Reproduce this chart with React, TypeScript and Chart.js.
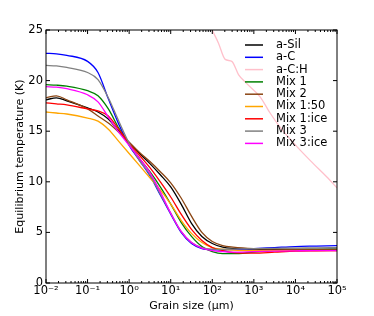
import React, { useEffect, useRef } from 'react';
import { Chart, registerables } from 'chart.js';
Chart.register(...registerables);

// Grain sizes (µm)
const sizes = [0.01, 0.0178, 0.0316, 0.1, 0.178, 0.316, 0.562, 1, 1.78, 3.16, 5.62, 10, 17.8, 31.6, 56.2, 100, 178, 316, 1000, 3162, 10000, 31623, 100000];

const aSil = [18.1, 18.3, 18.0, 17.3, 16.9, 16.2, 15.0, 13.9, 12.8, 11.8, 10.7, 9.5, 7.8, 5.9, 4.6, 3.9, 3.55, 3.42, 3.35, 3.32, 3.32, 3.33, 3.35];
const aC = [22.7, 22.65, 22.5, 21.9, 20.8, 18.2, 15.7, 13.6, 12.1, 10.6, 8.7, 6.8, 5.0, 3.9, 3.4, 3.28, 3.27, 3.3, 3.4, 3.5, 3.6, 3.65, 3.7];
const mix1 = [19.6, 19.55, 19.45, 19.0, 18.5, 17.2, 15.3, 13.7, 12.3, 11.0, 9.5, 7.8, 6.0, 4.6, 3.6, 3.1, 2.9, 2.9, 3.05, 3.2, 3.3, 3.32, 3.33];
const mix2 = [18.3, 18.5, 18.1, 17.2, 16.5, 15.8, 14.9, 13.9, 12.9, 12.0, 11.0, 9.9, 8.4, 6.6, 5.0, 4.1, 3.7, 3.55, 3.4, 3.35, 3.33, 3.32, 3.3];
const mix150 = [16.9, 16.8, 16.7, 16.3, 16.0, 15.2, 14.0, 12.8, 11.6, 10.4, 9.2, 7.8, 6.2, 4.9, 4.0, 3.5, 3.35, 3.25, 3.2, 3.2, 3.2, 3.2, 3.2];
const mix1ice = [17.8, 17.7, 17.6, 17.2, 17.0, 16.5, 15.2, 13.8, 12.6, 11.4, 10.0, 8.5, 6.8, 5.3, 4.2, 3.5, 3.2, 3.0, 2.95, 3.05, 3.15, 3.18, 3.2];
const mix3 = [21.5, 21.45, 21.3, 20.8, 20.1, 18.3, 16.0, 13.8, 12.1, 10.7, 8.8, 6.9, 5.1, 4.0, 3.5, 3.35, 3.33, 3.35, 3.4, 3.43, 3.45, 3.48, 3.5];
const mix3ice = [19.4, 19.35, 19.2, 18.6, 17.9, 16.4, 14.9, 13.6, 12.3, 10.9, 9.0, 6.9, 5.1, 4.0, 3.45, 3.2, 3.1, 3.05, 3.1, 3.15, 3.18, 3.2, 3.2];

// a-C:H has its own sampling (only visible at large sizes)
const aCHSizes = [70.8, 100, 141, 204, 295, 427, 676, 1413, 2455, 4266, 10715, 26915, 56234, 100000];
const aCH = [26.5, 25, 23.7, 22.1, 21.9, 20.6, 19.7, 18.4, 16.8, 15.4, 13.5, 11.8, 10.5, 9.4];

const seriesLabels = ['a-Sil', 'a-C', 'a-C:H', 'Mix 1', 'Mix 2', 'Mix 1:50', 'Mix 1:ice', 'Mix 3', 'Mix 3:ice'];
const seriesColors = ['#000000', '#0000ff', '#ffc0cb', '#008000', '#8b4513', '#ffa500', '#ff0000', '#808080', '#ff00ff'];

const xTickValues = [0.01, 0.1, 1, 10, 100, 1000, 10000, 100000];
const xTickLabels = ['10⁻²', '10⁻¹', '10⁰', '10¹', '10²', '10³', '10⁴', '10⁵'];
const yTickValues = [0, 5, 10, 15, 20, 25];

const FONT = 'DejaVu Sans';

const framePlugin = {
  id: 'framePlugin',
  afterDraw(chart: any) {
    const { ctx, chartArea, scales } = chart;
    const { left, right, top, bottom } = chartArea;
    const xs = scales.x;
    const ys = scales.y;
    ctx.save();
    ctx.strokeStyle = '#000';
    ctx.lineWidth = 1;
    ctx.strokeRect(left, top, right - left, bottom - top);
    ctx.beginPath();
    for (let k = 0; k < xTickValues.length; k++) {
      const base = xTickValues[k];
      for (let m = 1; m <= 9; m++) {
        if (k === xTickValues.length - 1 && m > 1) break;
        const px = xs.getPixelForValue(base * m);
        const len = m === 1 ? 4 : 2;
        ctx.moveTo(px, bottom);
        ctx.lineTo(px, bottom - len);
        ctx.moveTo(px, top);
        ctx.lineTo(px, top + len);
      }
    }
    for (const v of yTickValues) {
      const py = ys.getPixelForValue(v);
      ctx.moveTo(left, py);
      ctx.lineTo(left + 4, py);
      ctx.moveTo(right, py);
      ctx.lineTo(right - 4, py);
    }
    ctx.stroke();

    // legend (no frame, upper right inside axes)
    const ds = chart.data.datasets;
    ctx.font = `11.5px '${FONT}'`;
    ctx.textBaseline = 'middle';
    ctx.textAlign = 'left';
    for (let i = 0; i < ds.length; i++) {
      const yy = 45 + i * 12.3;
      ctx.strokeStyle = ds[i].borderColor;
      ctx.lineWidth = 1.5;
      ctx.beginPath();
      ctx.moveTo(245, yy);
      ctx.lineTo(263, yy);
      ctx.stroke();
      ctx.fillStyle = '#000';
      ctx.fillText(ds[i].label, 276, yy);
    }
    ctx.restore();
  },
};

export default function App() {
  const ref = useRef<HTMLCanvasElement>(null);
  useEffect(() => {
    const canvas = ref.current!;
    const all = [aSil, aC, aCH, mix1, mix2, mix150, mix1ice, mix3, mix3ice];
    const datasets = all.map((ys, i) => {
      const xs = i === 2 ? aCHSizes : sizes;
      return {
        label: seriesLabels[i],
        data: xs.map((x, j) => ({ x, y: ys[j] })),
        borderColor: seriesColors[i],
        backgroundColor: seriesColors[i],
        borderWidth: 1.3,
        pointRadius: 0,
        fill: false,
        cubicInterpolationMode: 'monotone' as const,
        clip: 0,
        order: all.length - i,
      };
    });
    const chart = new Chart(canvas, {
      type: 'line',
      data: { datasets },
      options: {
        animation: false,
        responsive: false,
        devicePixelRatio: 1,
        layout: { padding: { left: 0, top: 30, right: 37, bottom: 0 } },
        plugins: { legend: { display: false }, tooltip: { enabled: false } },
        scales: {
          x: {
            type: 'logarithmic',
            min: 0.01,
            max: 100000,
            grid: { display: false, drawTicks: false },
            border: { display: false },
            afterBuildTicks: (s: any) => {
              s.ticks = xTickValues.map((v) => ({ value: v }));
            },
            afterFit: (s: any) => {
              s.height = 33;
            },
            ticks: {
              autoSkip: false,
              maxRotation: 0,
              padding: 1,
              color: '#000',
              font: { family: FONT, size: 11.5 },
              callback: (v: any) => {
                const idx = xTickValues.indexOf(Number(v));
                return idx >= 0 ? xTickLabels[idx] : '';
              },
            },
            title: {
              display: true,
              text: 'Grain size (μm)',
              color: '#000',
              font: { family: FONT, size: 11 },
              padding: { top: 0, bottom: 3 },
            },
          },
          y: {
            min: 0,
            max: 25,
            grid: { display: false, drawTicks: false },
            border: { display: false },
            afterBuildTicks: (s: any) => {
              s.ticks = yTickValues.map((v) => ({ value: v }));
            },
            afterFit: (s: any) => {
              s.width = 46;
            },
            ticks: {
              padding: 3,
              color: '#000',
              font: { family: FONT, size: 11.5 },
            },
            title: {
              display: true,
              text: 'Equilibrium temperature (K)',
              color: '#000',
              font: { family: FONT, size: 11 },
              padding: { top: 14, bottom: 0 },
            },
          },
        },
      },
      plugins: [framePlugin],
    });
    return () => chart.destroy();
  }, []);
  return (
    <div style={{ position: 'fixed', left: 0, top: 0, width: 374, height: 316, background: '#fff' }}>
      <canvas ref={ref} width={374} height={316} style={{ width: 374, height: 316, display: 'block' }} />
    </div>
  );
}
